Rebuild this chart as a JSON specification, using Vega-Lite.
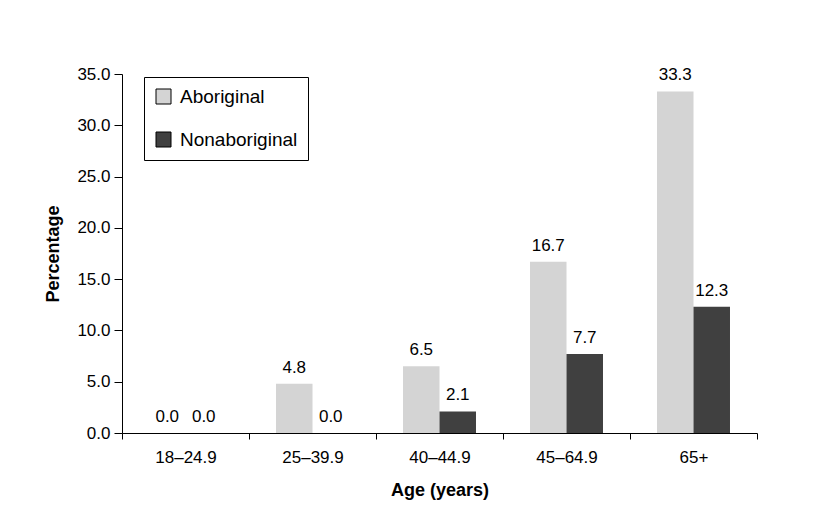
{
  "$schema": "https://vega.github.io/schema/vega-lite/v6.json",
  "width": 635,
  "height": 359,
  "autosize": {"type": "none"},
  "padding": {"left": 122, "top": 74, "right": 74, "bottom": 89},
  "background": "white",
  "config": {
    "view": {"stroke": null},
    "font": "Liberation Sans, Arial, sans-serif",
    "axis": {"labelFont": "Liberation Sans, Arial, sans-serif", "titleFont": "Liberation Sans, Arial, sans-serif", "labelColor": "black", "titleColor": "black", "domainColor": "black", "tickColor": "black", "grid": false},
    "legend": {"labelFont": "Liberation Sans, Arial, sans-serif"}
  },
  "data": {
    "values": [
      {"age": "18–24.9", "group": "Aboriginal", "pct": 0.0},
      {"age": "18–24.9", "group": "Nonaboriginal", "pct": 0.0},
      {"age": "25–39.9", "group": "Aboriginal", "pct": 4.8},
      {"age": "25–39.9", "group": "Nonaboriginal", "pct": 0.0},
      {"age": "40–44.9", "group": "Aboriginal", "pct": 6.5},
      {"age": "40–44.9", "group": "Nonaboriginal", "pct": 2.1},
      {"age": "45–64.9", "group": "Aboriginal", "pct": 16.7},
      {"age": "45–64.9", "group": "Nonaboriginal", "pct": 7.7},
      {"age": "65+", "group": "Aboriginal", "pct": 33.3},
      {"age": "65+", "group": "Nonaboriginal", "pct": 12.3}
    ]
  },
  "encoding": {
    "x": {
      "field": "age", "type": "nominal", "sort": null,
      "scale": {"paddingInner": 0, "paddingOuter": 0},
      "axis": {"title": "Age (years)", "labelAngle": 0, "tickBand": "extent", "tickSize": 6, "labelPadding": 10, "labelFontSize": 17, "titleFontSize": 18, "titleFontWeight": "bold", "titlePadding": 16}
    },
    "xOffset": {"field": "group", "type": "nominal", "scale": {"paddingOuter": 0.74, "paddingInner": 0}},
    "y": {
      "field": "pct", "type": "quantitative",
      "scale": {"domain": [0, 35], "nice": false},
      "axis": {"title": "Percentage", "values": [0, 5, 10, 15, 20, 25, 30, 35], "format": ".1f", "tickSize": 8, "labelPadding": 4, "labelFontSize": 17, "titleFontSize": 18, "titleFontWeight": "bold", "titlePadding": 14}
    }
  },
  "layer": [
    {
      "mark": {"type": "bar"},
      "encoding": {
        "color": {
          "field": "group", "type": "nominal",
          "scale": {"domain": ["Aboriginal", "Nonaboriginal"], "range": ["#d4d4d4", "#404040"]},
          "legend": {"title": null, "orient": "none", "legendX": 22, "legendY": 3, "strokeColor": "black", "fillColor": "white", "padding": 10, "labelFontSize": 19, "labelColor": "black", "symbolType": "square", "symbolSize": 225, "symbolStrokeColor": "black", "symbolStrokeWidth": 1, "labelOffset": 7, "rowPadding": 23}
        }
      }
    },
    {
      "mark": {"type": "text", "baseline": "alphabetic", "dy": -11, "fontSize": 17, "color": "black"},
      "encoding": {"text": {"field": "pct", "type": "quantitative", "format": ".1f"}}
    }
  ]
}
